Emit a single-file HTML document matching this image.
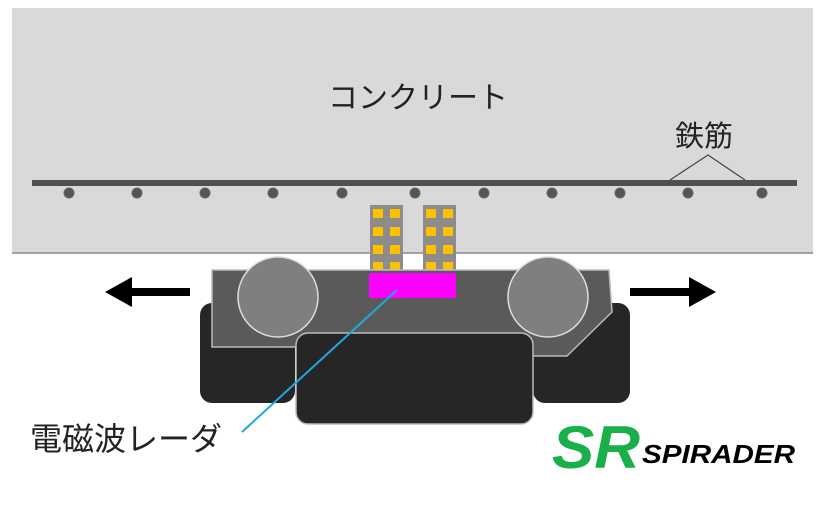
<!DOCTYPE html>
<html><head><meta charset="utf-8"><style>
body{margin:0;width:824px;height:525px;background:#fff;overflow:hidden}
text{font-family:"Liberation Sans","Noto Sans CJK JP",sans-serif}
</style></head><body>
<svg width="824" height="525" viewBox="0 0 824 525" xmlns="http://www.w3.org/2000/svg">
<rect x="12" y="8" width="801" height="245" fill="#d9d9d9"/>
<line x1="12" y1="253" x2="813" y2="253" stroke="#8a8a8a" stroke-width="1.5"/>
<text x="418" y="108" font-size="30" text-anchor="middle" fill="#222">コンクリート</text>
<text x="704" y="146" font-size="29" text-anchor="middle" fill="#222">鉄筋</text>
<polyline points="670,180 708,155 745,180" fill="none" stroke="#444" stroke-width="1.2"/>
<line x1="32" y1="183" x2="797" y2="183" stroke="#505050" stroke-width="6"/>
<g fill="#555" stroke="#666" stroke-width="1">
<circle cx="69" cy="193" r="5"/><circle cx="137" cy="193" r="5"/><circle cx="205" cy="193" r="5"/><circle cx="273" cy="193" r="5"/><circle cx="342" cy="193" r="5"/><circle cx="415" cy="193" r="5"/><circle cx="484" cy="193" r="5"/><circle cx="552" cy="193" r="5"/><circle cx="620" cy="193" r="5"/><circle cx="688" cy="193" r="5"/><circle cx="762" cy="193" r="5"/>
</g>
<g>
<rect x="370" y="205" width="33" height="66" fill="#8c8c8c"/>
<rect x="423" y="205" width="33" height="66" fill="#8c8c8c"/>
<g fill="#ffc000">
<rect x="373" y="209" width="10" height="9"/><rect x="390" y="209" width="10" height="9"/>
<rect x="373" y="227" width="10" height="9"/><rect x="390" y="227" width="10" height="9"/>
<rect x="373" y="245" width="10" height="9"/><rect x="390" y="245" width="10" height="9"/>
<rect x="373" y="262" width="10" height="8"/><rect x="390" y="262" width="10" height="8"/>
<rect x="426" y="209" width="10" height="9"/><rect x="443" y="209" width="10" height="9"/>
<rect x="426" y="227" width="10" height="9"/><rect x="443" y="227" width="10" height="9"/>
<rect x="426" y="245" width="10" height="9"/><rect x="443" y="245" width="10" height="9"/>
<rect x="426" y="262" width="10" height="8"/><rect x="443" y="262" width="10" height="8"/>
</g></g>
<rect x="200" y="303" width="95" height="100" rx="12" fill="#262626"/>
<rect x="533" y="303" width="97" height="100" rx="12" fill="#262626"/>
<polygon points="212,270 609,270 612,312 567,356 515,356 490,335 320,335 305,347 212,347" fill="#5a5a5a" stroke="#bbb" stroke-width="1.5"/>
<rect x="296" y="333" width="237" height="91" rx="12" fill="#262626" stroke="#bbb" stroke-width="1.5"/>
<circle cx="278" cy="297" r="40" fill="#7f7f7f" stroke="#ddd" stroke-width="1.5"/>
<circle cx="548" cy="297" r="40" fill="#7f7f7f" stroke="#ddd" stroke-width="1.5"/>
<rect x="369" y="273" width="87" height="25" rx="2" fill="#ff00ff"/>
<line x1="397" y1="290" x2="242" y2="432" stroke="#1fa9dc" stroke-width="2"/>
<g fill="#000">
<rect x="125" y="288" width="65" height="8"/><polygon points="105,292 132,277 132,307"/>
<rect x="630" y="288" width="65" height="8"/><polygon points="716,292 689,277 689,307"/>
</g>
<text x="30" y="450" font-size="32" fill="#222">電磁波レーダ</text>
<text x="552" y="468" font-size="60" font-weight="bold" font-style="italic" fill="#19b04a" textLength="88" lengthAdjust="spacingAndGlyphs" font-family="Liberation Sans,sans-serif">SR</text>
<text x="642" y="463" font-size="26" font-weight="bold" font-style="italic" fill="#000" font-family="Liberation Serif,serif" textLength="153" lengthAdjust="spacingAndGlyphs">SPIRADER</text>
</svg>
</body></html>
